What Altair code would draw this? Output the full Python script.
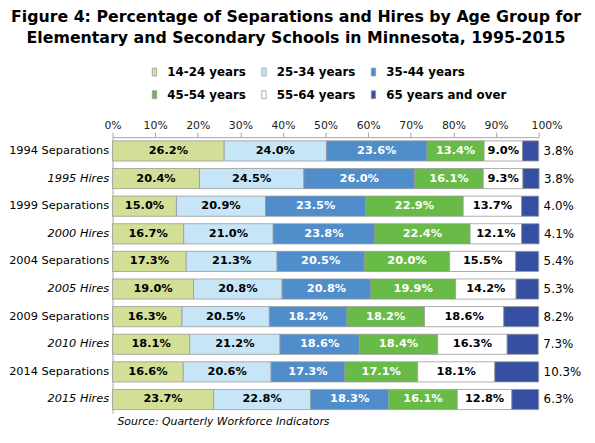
import altair as alt
import pandas as pd

# ---------------- data ----------------
rows = ["1994 Separations", "1995 Hires", "1999 Separations", "2000 Hires",
        "2004 Separations", "2005 Hires", "2009 Separations", "2010 Hires",
        "2014 Separations", "2015 Hires"]
age_groups = ["14-24 years", "25-34 years", "35-44 years",
              "45-54 years", "55-64 years", "65 years and over"]
a14_24 = [26.2, 20.4, 15.0, 16.7, 17.3, 19.0, 16.3, 18.1, 16.6, 23.7]
a25_34 = [24.0, 24.5, 20.9, 21.0, 21.3, 20.8, 20.5, 21.2, 20.6, 22.8]
a35_44 = [23.6, 26.0, 23.5, 23.8, 20.5, 20.8, 18.2, 18.6, 17.3, 18.3]
a45_54 = [13.4, 16.1, 22.9, 22.4, 20.0, 19.9, 18.2, 18.4, 17.1, 16.1]
a55_64 = [9.0, 9.3, 13.7, 12.1, 15.5, 14.2, 18.6, 16.3, 18.1, 12.8]
a65_up = [3.8, 3.8, 4.0, 4.1, 5.4, 5.3, 8.2, 7.3, 10.3, 6.3]
tick_values = [0, 0.1, 0.2, 0.3, 0.4, 0.5, 0.6, 0.7, 0.8, 0.9, 1.0]
title_lines = ["Figure 4: Percentage of Separations and Hires by Age Group for",
               "Elementary and Secondary Schools in Minnesota, 1995-2015"]
source_note = ["Source: Quarterly Workforce Indicators"]

colors = ["#D3DF96", "#C6E5F7", "#4F8DCB", "#68BB46", "#FFFFFF", "#3550A3"]
FONT = "DejaVu Sans"

series = [a14_24, a25_34, a35_44, a45_54, a55_64, a65_up]
recs = []
for i, row in enumerate(rows):
    start = 0.0
    for k, (g, vals) in enumerate(zip(age_groups, series)):
        v = vals[i]
        recs.append(dict(row=row, group=g, order=k, value=v,
                         start=start / 100, end=(start + v) / 100,
                         mid=(start + v / 2) / 100, label=f"{v:.1f}%"))
        start += v
df = pd.DataFrame(recs)

y_enc = alt.Y(
    "row:N", sort=rows, title=None,
    scale=alt.Scale(paddingInner=0.27, paddingOuter=0.135),
    axis=alt.Axis(
        domainColor="#a6a6a6", ticks=False, labelPadding=4,
        labelFontSize=11.5, labelFont=FONT, labelColor="black",
        labelFontStyle={"condition": {"test": "indexof(datum.value, 'Hires') >= 0",
                                      "value": "italic"}, "value": "normal"},
    ),
)
x_scale = alt.Scale(domain=[0, 1], nice=False)

bars = alt.Chart(df).mark_bar(stroke="#9a9a9a", strokeWidth=0.8).encode(
    x=alt.X("start:Q", scale=x_scale, title=None,
            axis=alt.Axis(orient="top", values=tick_values, format=".0%",
                          grid=False, tickSize=5, tickColor="#a6a6a6",
                          domainColor="#a6a6a6", labelPadding=2, labelFlush=False,
                          labelFontSize=11, labelFont=FONT, labelColor="#222",
                          labelOffset={"condition": {"test": "datum.value == 1", "value": 8},
                                       "value": 0})),
    x2="end:Q",
    y=y_enc,
    color=alt.Color("group:N", sort=age_groups,
                    scale=alt.Scale(domain=age_groups, range=colors),
                    legend=alt.Legend(
                        orient="none", legendX=36.5, legendY=-72,
                        direction="horizontal", columns=3, title=None,
                        symbolType="M-0.55,-1H0.55V1H-0.55Z", symbolSize=64,
                        symbolStrokeColor="#999", symbolStrokeWidth=0.8,
                        labelFontSize=12, labelFontWeight="bold", labelFont=FONT,
                        labelColor="black", labelOffset=7, columnPadding=12,
                        rowPadding=11, padding=0)),
)

inner = alt.Chart(df).transform_filter(
    alt.FieldOneOfPredicate(field="group", oneOf=age_groups[:5])
).mark_text(font=FONT, fontSize=11.5, fontWeight="bold", baseline="middle").encode(
    x=alt.X("mid:Q", scale=x_scale),
    y=alt.Y("row:N", sort=rows),
    text="label:N",
    color=alt.when(alt.FieldOneOfPredicate(field="group", oneOf=age_groups[2:4]))
    .then(alt.value("white")).otherwise(alt.value("black")),
)

outer = alt.Chart(df).transform_filter(
    alt.FieldEqualPredicate(field="group", equal=age_groups[5])
).mark_text(font=FONT, fontSize=12, align="left", dx=5, baseline="middle",
            color="black").encode(
    x=alt.X("end:Q", scale=x_scale),
    y=alt.Y("row:N", sort=rows),
    text="label:N",
)

source = alt.Chart(pd.DataFrame({"t": source_note})).mark_text(
    font=FONT, fontSize=11, fontStyle="italic", align="left",
    baseline="middle", color="black"
).encode(x=alt.value(5), y=alt.value(289), text="t:N")

chart = alt.layer(bars, inner, outer, source).properties(
    width=432, height=280,
    autosize=alt.AutoSizeParams(type="none"),
    padding={"left": 106, "top": 128, "right": 49, "bottom": 14},
    title=alt.TitleParams(text=title_lines, font=FONT, fontSize=16,
                          fontWeight="bold", color="black", anchor="middle",
                          frame="group", dx=-30, offset=20, lineHeight=22),
).configure_view(stroke=None)

chart.save("out.html", embed_options={"renderer": "svg", "actions": False})
